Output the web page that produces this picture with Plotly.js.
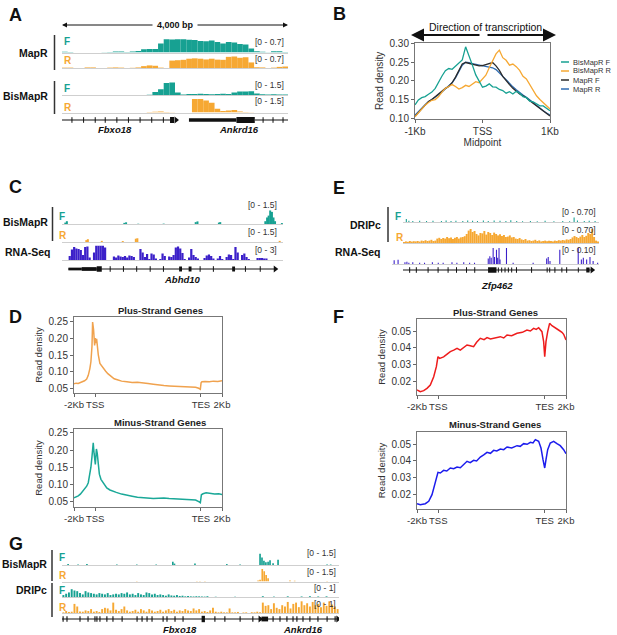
<!DOCTYPE html>
<html>
<head>
<meta charset="utf-8">
<script src="https://cdn.plot.ly/plotly-3.0.1.min.js"></script>
<style>
  body { margin: 0; background: #fff; }
  #fig { width: 617px; height: 635px; }
</style>
</head>
<body>
<div id="fig"></div>
<script>
// ---------------- data ----------------
const teal = '#17a192';
const orange = '#f6a833';
const indigo = '#3b20c9';

// Panel A: 4 kb window, 100 bp bins
const mapRF = [0.04,0.03,0,0,0,0,0,0.01,0.03,0.05, 0.05,0.02,0.05,0.08,0.16,0.18,0.17,0.45,0.66,0.65,
  0.66,0.66,0.64,0.62,0.58,0.56,0.6,0.52,0.45,0.52, 0.5,0.42,0.4,0.2,0.06,0.04,0.01,0.06,0.06,0.03];
const mapRR = [0.02,0.02,0,0,0.03,0.03,0,0,0.02,0.03, 0.02,0,0.01,0.03,0.1,0.14,0.12,0.02,0,0.4,
  0.42,0.44,0.5,0.52,0.5,0.46,0.5,0.45,0.44,0.6, 0.62,0.55,0.58,0.3,0.04,0.03,0,0.02,0.06,0.08];
const bisF_A = [0,0,0,0,0,0,0,0,0,0, 0,0,0,0,0,0.02,0.3,0.6,1.25,1.3,
  0.25,0.05,0.1,0.1,0.12,0.1,0.08,0.1,0.12,0.1, 0.25,0.35,0.35,0.4,0.15,0.08,0.05,0.08,0.04,0.06];
const bisR_A = [0,0,0,0,0,0,0,0,0,0, 0,0,0,0,0,0.05,0.08,0.1,0.05,0.02,
  0,0,0,1.4,1.4,1.25,1.0,0.4,0.15,0.2, 0.25,0.1,0.05,0.03,0,0,0,0,0,0];
const geneA_intronStart = [0, 3412];
const geneA_intronEnd = [1912, 4000];
const geneA_exonStart = [1912, 2247, 3088];
const geneA_exonEnd = [1982, 3088, 3412];
const geneA_exonHeight = [1.0, 0.55, 1.0];
const geneA_strandTicks = [176, 382, 588, 765, 971, 1176, 1382, 1588, 1794, 3559, 3735, 3912];
const geneA_arrow = [2018];

// Panel B: metaplot around midpoint
const midpointBp = [-1000,-950,-900,-850,-800,-750,-700,-650,-600,-550,-500,-450,-400,-350,-300,-250,-200,-150,-100,-50,
  0,50,100,150,200,250,300,350,400,450,500,550,600,650,700,750,800,850,900,950,1000];
const bisMapRF_B = [0.136,0.149,0.155,0.158,0.164,0.170,0.180,0.198,0.213,0.227,0.233,0.231,0.240,0.247,0.256,0.291,0.269,0.242,0.216,0.198,
  0.183,0.186,0.192,0.184,0.183,0.177,0.174,0.167,0.171,0.165,0.172,0.167,0.158,0.155,0.146,0.144,0.138,0.133,0.133,0.127,0.120];
const bisMapRR_B = [0.104,0.115,0.125,0.135,0.142,0.148,0.150,0.158,0.170,0.180,0.185,0.190,0.185,0.178,0.182,0.188,0.185,0.192,0.198,0.195,
  0.205,0.215,0.235,0.255,0.272,0.282,0.262,0.255,0.242,0.245,0.238,0.228,0.212,0.205,0.190,0.175,0.160,0.150,0.142,0.133,0.125];
const mapRF_B = [0.105,0.115,0.125,0.135,0.145,0.150,0.158,0.165,0.172,0.180,0.185,0.195,0.210,0.228,0.245,0.249,0.247,0.243,0.243,0.240,
  0.241,0.243,0.246,0.249,0.240,0.228,0.212,0.200,0.190,0.180,0.172,0.165,0.160,0.155,0.147,0.140,0.132,0.125,0.118,0.112,0.106];
const mapRR_B = [0.108,0.118,0.127,0.136,0.144,0.150,0.155,0.163,0.170,0.178,0.185,0.195,0.208,0.225,0.242,0.250,0.249,0.246,0.244,0.243,
  0.241,0.238,0.236,0.235,0.230,0.222,0.212,0.203,0.193,0.184,0.176,0.168,0.162,0.156,0.150,0.142,0.135,0.127,0.120,0.114,0.109];
const seriesNamesB = ['BisMapR F', 'BisMapR R', 'MapR F', 'MapR R'];
const seriesColorsB = [teal, orange, '#2b2b2b', '#2f6db3'];

// Panel C: Abhd10 locus (0-100 scaled)
const cF_pos = [1.5,2.2,28.2,29,34.5,46,60.5,61.3,71,71.6,92,92.8,93.5,94.2,95,95.7,96.4,99.5];
const cF_val = [0.15,0.3,0.12,0.18,0.03,0.04,0.2,0.28,0.15,0.2,0.3,0.7,0.9,1.45,1.3,0.7,0.3,0.1];
const cR_pos = [11,11.7,18,27.5,33.4,34.1,98.5];
const cR_val = [0.2,0.3,0.12,0.1,0.35,0.4,0.12];
const cRna = [0,0,0,0.8,2.1,2.6,2.3,2.2,2.0,1.0, 2.6,2.7,0.5,0,1.5,2.85,2.85,2.85,2.85,2.5,
  0,0,0,0.7,0.5,0.9,0.7,0.6,0.8,0.5, 0.9,0.8,0.6,0,0,2.2,1.5,0.6,1.2,0.2,
  1.3,1.1,0.3,0,0.2,1.3,0.8,0,0.7,0.6, 1.0,2.5,2.7,2.3,1.4,0.2,0,0.5,2.2,1.0,
  0.6,0.3,0,0,0.4,0.9,1.1,0.8,0.3,0, 0.3,0.8,0.2,0,0.6,1.1,1.0,0.2,2.6,1.5,
  0,1.0,1.3,0.6,0.2,0,0,0,0.4,0.4, 0.4,0.3,0.3,0,0,0,0,0,0,0];
const geneC_intronStart = [2.9];
const geneC_intronEnd = [96.5];
const geneC_exonStart = [2.9, 8.9, 15.7, 53, 57.3, 77];
const geneC_exonEnd = [8.9, 15.7, 18, 54.3, 58.6, 78.3];
const geneC_exonHeight = [0.55, 0.75, 1.1, 1.0, 1.0, 1.0];
const geneC_strandTicks = [21.8, 27.8, 33.8, 39.9, 45.9, 62.5, 68.5, 83, 89.7];
const geneC_arrow = [96.5];

// Panel E: Zfp462 locus (0-100 scaled)
const eF_pos = [1.7,3,5,8.5,12,15.3,19.6,22,24.5,27,30.5,33,35.5,38,41,43.5,46.5,49.5,52.5,55,58,61,65,68.5,72.5,77,81.5,85,87.3,89,92.5,95,98];
const eF_val = [0.15,0.06,0.05,0.06,0.05,0.06,0.05,0.07,0.05,0.06,0.05,0.08,0.06,0.05,0.07,0.05,0.08,0.06,0.05,0.09,0.05,0.04,0.05,0.04,0.06,0.04,0.05,0.04,0.22,0.08,0.05,0.06,0.05];
const eR = [0.05,0.08,0.06,0.1,0.07,0.09,0.08,0.1,0.07,0.12, 0.1,0.14,0.1,0.12,0.16,0.1,0.12,0.22,0.26,0.2,
  0.25,0.22,0.3,0.24,0.28,0.2,0.26,0.3,0.22,0.28, 0.3,0.34,0.45,0.62,0.75,0.55,0.6,0.45,0.38,0.5,
  0.48,0.6,0.42,0.55,0.5,0.4,0.52,0.45,0.38,0.44, 0.35,0.4,0.3,0.32,0.38,0.28,0.3,0.22,0.2,0.25,
  0.18,0.15,0.2,0.12,0.14,0.1,0.12,0.16,0.1,0.13, 0.08,0.1,0.12,0.09,0.11,0.1,0.08,0.12,0.1,0.14,
  0.12,0.15,0.13,0.18,0.16,0.2,0.28,0.35,0.3,0.25, 0.32,0.4,0.3,0.36,0.5,0.45,0.7,0.3,0.12,0.08];
const eRna_pos = [-4.5,-2.5,1,2,3,5,8.5,11,15,18,20.5,25,27.5,31,34,36.5,43.5,44.3,45,46,46.7,47.7,48.3,49,49.5,52.8,56.2,66.4,73.3,74.1,75,80,89.4,91,92,93.7,95.4,97,99.3];
const eRna_val = [0.025,0.028,0.012,0.015,0.01,0.012,0.01,0.01,0.012,0.01,0.01,0.012,0.01,0.012,0.01,0.01,0.035,0.05,0.04,0.1,0.045,0.09,0.04,0.1,0.03,0.1,0.01,0.01,0.035,0.045,0.02,0.09,0.1,0.03,0.04,0.03,0.045,0.02,0.01];
const geneE_intronStart = [0];
const geneE_intronEnd = [96.5];
const geneE_exonStart = [43.4, 48.4, 50.1, 51.8, 53.5, 55.2, 73.3, 74.6, 80.8, 89.2, 93.5];
const geneE_exonEnd = [47.7, 48.9, 50.6, 52.3, 54, 55.7, 73.8, 75.1, 81.3, 89.7, 95.2];
const geneE_exonHeight = [1.1, 1.0, 1.0, 1.0, 1.0, 1.0, 1.0, 1.0, 1.0, 1.0, 1.0];
const geneE_strandTicks = [3.4, 6.8, 12.8, 17.9, 23, 27.3, 32.4, 36.6, 57.9, 65.6, 77.5, 83.5];
const geneE_arrow = [96.5];

// Panels D and F: scaled gene bodies (-2Kb .. TSS .. TES .. +2Kb)
const dPlusX = [-2,-1.8,-1.6,-1.4,-1.2,-1.0,-0.8,-0.65,-0.5,-0.4,-0.3,-0.24,-0.15,-0.05,0.02,0.08,0.14,0.2,0.3,0.45,0.6,0.8,1.0,1.2,1.5,1.8,2.1,2.5,3.0,3.5,
  4.0,4.5,5.0,5.5,6.0,6.5,7.0,7.5,8.0,8.5,9.0,9.5,9.8,9.95,10.02,10.1,10.4,10.8,11.2,11.6,12];
const dPlusY = [0.065,0.067,0.066,0.068,0.071,0.074,0.079,0.09,0.11,0.13,0.175,0.247,0.225,0.178,0.2,0.185,0.198,0.17,0.15,0.125,0.118,0.108,0.102,0.095,0.088,0.08,0.077,0.073,0.071,0.069,
  0.07,0.067,0.066,0.064,0.061,0.06,0.059,0.058,0.057,0.056,0.056,0.055,0.052,0.049,0.068,0.071,0.072,0.071,0.073,0.072,0.074];
const dMinusX = [-2,-1.8,-1.6,-1.4,-1.2,-1.0,-0.8,-0.65,-0.5,-0.4,-0.3,-0.18,-0.1,0.02,0.12,0.2,0.3,0.4,0.55,0.7,0.9,1.1,1.4,1.7,2.0,2.5,3.0,3.5,
  4.0,4.5,5.0,5.5,6.0,6.5,7.0,7.5,8.0,8.5,9.0,9.5,9.8,9.95,10.05,10.2,10.5,10.9,11.3,11.7,12];
const dMinusY = [0.061,0.063,0.067,0.072,0.079,0.088,0.095,0.105,0.13,0.15,0.18,0.221,0.19,0.158,0.203,0.19,0.16,0.13,0.115,0.108,0.098,0.09,0.084,0.08,0.077,0.072,0.068,0.066,
  0.063,0.061,0.06,0.059,0.06,0.061,0.059,0.058,0.058,0.057,0.056,0.055,0.05,0.047,0.07,0.073,0.076,0.074,0.072,0.073,0.071];
const fPlusX = [-2,-1.69,-1.37,-1.06,-0.75,-0.43,-0.18,-0.03,0.13,0.5,0.8,1.13,1.45,1.76,2.07,2.4,2.7,3.0,3.32,3.6,3.95,4.3,4.58,4.9,5.2,5.5,5.83,6.15,6.46,6.9,
  7.4,7.9,8.33,8.65,8.96,9.2,9.43,9.74,9.9,10.0,10.12,10.28,10.46,10.68,11.0,11.3,11.62,11.78,12];
const fPlusY = [0.0146,0.0136,0.0142,0.0156,0.0176,0.0226,0.0286,0.0346,0.0336,0.0345,0.036,0.0376,0.0385,0.0396,0.0385,0.0402,0.0416,0.0412,0.0406,0.0432,0.0456,0.0448,0.046,0.0452,0.0458,0.0462,0.0466,0.0458,0.0476,0.0472,
  0.0486,0.0492,0.0506,0.05,0.0516,0.051,0.052,0.0496,0.0436,0.0346,0.0436,0.0496,0.0546,0.0532,0.0516,0.0506,0.0492,0.048,0.0446];
const fMinusX = [-2,-1.69,-1.22,-0.9,-0.59,-0.28,-0.03,0.19,0.5,0.8,1.13,1.45,1.76,2.07,2.38,2.7,3.0,3.32,3.6,3.95,4.3,4.58,4.9,5.2,5.5,5.83,6.15,6.46,6.9,7.4,
  7.7,8.02,8.35,8.65,8.9,9.12,9.43,9.65,9.84,10.0,10.12,10.28,10.52,10.84,11.15,11.46,11.78,12];
const fMinusY = [0.0142,0.0136,0.0142,0.0156,0.0196,0.0266,0.033,0.0326,0.0342,0.0338,0.0356,0.0352,0.0362,0.0358,0.0376,0.0396,0.0388,0.0402,0.0398,0.0422,0.0436,0.045,0.0444,0.0462,0.0458,0.047,0.0466,0.0482,0.0476,0.049,
  0.0486,0.0502,0.0498,0.051,0.0506,0.0526,0.0516,0.0476,0.0406,0.0356,0.0406,0.0466,0.0506,0.0516,0.0502,0.049,0.0466,0.0442];
const metaTickVals = [-2, 0, 10, 12];
const metaTickText = ['-2Kb', 'TSS', 'TES', '2Kb'];

// Panel G: Fbxo18 / Ankrd16 wide locus (0-100 scaled)
const gBisF_pos = [2.2,5.8,9,19.8,27,34,40,40.6,48,59.5,64.3,71.5,72.2,72.9,73.6,74.4,75.1,76.2,78,95.7,97];
const gBisF_val = [0.1,0.06,0.1,0.06,0.05,0.05,0.35,0.15,0.15,0.1,0.06,1.2,0.8,0.45,0.3,0.35,0.5,0.2,0.55,0.06,0.05];
const gBisR_pos = [27,48.7,49.8,51.6,70.8,71.5,72.3,73,73.7,74.4,82.3,84,95.7];
const gBisR_val = [0.05,0.06,0.05,0.05,0.1,0.2,1.35,1.1,0.7,0.35,0.1,0.08,0.05];
const gDripF = [0.15,0.25,0.35,0.6,0.5,0.45,0.3,0.2,0.45,0.35, 0.3,0.25,0.2,0.3,0.25,0.2,0.3,0.15,0.2,0.25,
  0.2,0.3,0.25,0.35,0.2,0.25,0.15,0.3,0.2,0.15, 0.35,0.3,0.2,0.25,0.15,0.2,0.15,0.1,0.2,0.12,
  0.1,0.15,0.08,0.1,0.05,0.08,0.05,0.04,0.06,0.05, 0.04,0.03,0.06,0,0,0.02,0,0,0,0,
  0,0,0.02,0,0,0,0,0,0,0, 0,0,0.06,0,0,0,0.03,0,0,0,
  0,0.05,0,0,0,0,0.04,0,0,0.06, 0,0,0.04,0,0,0.05,0,0,0,0];
const gDripR = [0.05,0.15,0.08,0.1,0.7,0.5,0.12,0.1,0.2,0.15, 0.3,0.1,0.15,0.08,0.3,0.4,0.35,0.2,0.8,0.25,
  0.15,0.3,0.5,0.2,0.1,0.15,0.25,0.1,0.3,0.2, 0.1,0.3,0.2,0.1,0.15,0.25,0.1,0.2,0.3,0.15,
  0.25,0.1,0.2,0.15,0.3,0.2,0.15,0.35,0.2,0.3, 0.1,0.15,0.08,0.2,0.4,0.1,0.05,0.1,0.05,0.05,
  0.35,0.05,0.05,0.08,0,0.04,0.05,0,0.06,0.05, 0.1,0.06,0.8,0.55,0.6,0.3,0.75,0.4,0.3,0.6,
  0.5,0.85,0.35,0.7,0.8,0.45,0.9,0.6,0.75,0.5, 0.85,0.6,0.7,0.45,0.8,0.55,0.9,0.65,0.5,0.3];
const geneG_intronStart = [0];
const geneG_intronEnd = [100];
const geneG_exonStart = [0.2,1.6,6.3,9.2,11.7,12.4,13.5,16,18.2,21.5,26.9,28.7,30.5,32.3,36.3,37.7,40.6,43.5,50.4,55,58.6,64.1,68.7,72,76,78.5,81,83.2,84.6,86.8,89.3,92.2,95.5,98.4];
const geneG_exonEnd = [0.6,2.0,6.7,9.6,12.1,12.8,13.9,16.4,18.6,21.9,27.3,29.1,30.9,32.7,36.7,38.1,41,43.9,51.6,55.4,59,64.5,69.1,74.4,76.4,78.9,81.4,83.6,85,87.2,89.7,92.6,95.9,98.8];
const geneG_exonHeight = [1.4,1.4,1.4,1.4,1.4,1.4,1.4,1.4,1.4,1.4,1.4,1.4,1.4,1.4,1.4,1.4,1.4,1.4,1.6,1.4,1.4,1.4,1.4,1.2,1.4,1.4,1.4,1.4,1.4,1.4,1.4,1.4,1.4,1.4];
const geneG_arrow = [99.6, 71.5];

// ---------------- layout helpers ----------------
const W = 617, H = 635;
const px = v => v / W;
const py = v => 1 - v / H;
const FONT = 'Arial, "Liberation Sans", sans-serif';

const layout = {
  width: W, height: H,
  margin: {l: 0, r: 0, t: 0, b: 0},
  paper_bgcolor: 'white',
  plot_bgcolor: 'rgba(0,0,0,0)',
  showlegend: false,
  font: {family: FONT, color: '#222', size: 10},
  annotations: [],
  shapes: []
};
const traces = [];
let axisCount = 0;

function makeAxes(x0, x1, y0, y1, xopt, yopt) {
  axisCount++;
  const s = axisCount === 1 ? '' : String(axisCount);
  layout['xaxis' + s] = Object.assign({domain: [px(x0), px(x1)], anchor: 'y' + s, fixedrange: true}, xopt);
  layout['yaxis' + s] = Object.assign({domain: [py(y1), py(y0)], anchor: 'x' + s, fixedrange: true}, yopt);
  return {xaxis: 'x' + s, yaxis: 'y' + s};
}

function trackAxes(x0, x1, y0, y1, xrange, ymax, lineColor) {
  return makeAxes(x0, x1, y0, y1,
    {range: xrange, showgrid: false, zeroline: false, showticklabels: false, ticks: '',
     showline: true, linecolor: lineColor || '#cfcfcf', linewidth: 1},
    {range: [0, ymax], visible: false, showgrid: false, zeroline: false});
}

function binCenters(n, start, step) {
  return Array.from({length: n}, (_, i) => start + (i + 0.5) * step);
}

function bars(ax, xs, ys, color, width) {
  traces.push(Object.assign({
    type: 'bar', x: xs, y: ys, width: width,
    marker: {color: color, line: {width: 0}}, hoverinfo: 'skip'
  }, ax));
}

function geneModel(ax, intronStart, intronEnd, exonStart, exonEnd, exonHeight, strandTicks, arrows) {
  const lx = [], ly = [];
  intronStart.forEach((s, i) => { lx.push(s, intronEnd[i], null); ly.push(0, 0, null); });
  traces.push(Object.assign({type: 'scatter', mode: 'lines', x: lx, y: ly,
    line: {color: '#111', width: 1}, hoverinfo: 'skip'}, ax));
  traces.push(Object.assign({
    type: 'bar',
    x: exonStart.map((s, i) => (s + exonEnd[i]) / 2),
    width: exonStart.map((s, i) => exonEnd[i] - s),
    y: exonHeight,
    base: exonHeight.map(h => -h / 2),
    marker: {color: '#111', line: {width: 0}}, hoverinfo: 'skip'
  }, ax));
  if (strandTicks && strandTicks.length) {
    traces.push(Object.assign({type: 'scatter', mode: 'markers', x: strandTicks, y: strandTicks.map(() => 0),
      marker: {symbol: 'line-ns-open', size: 4, color: '#111', line: {color: '#111', width: 1}}, hoverinfo: 'skip'}, ax));
  }
  traces.push(Object.assign({type: 'scatter', mode: 'markers', x: arrows, y: arrows.map(() => 0),
    marker: {symbol: 'triangle-right', size: 6, color: '#111'}, hoverinfo: 'skip'}, ax));
}

function geneAxes(x0, x1, y0, y1, xrange) {
  return makeAxes(x0, x1, y0, y1,
    {range: xrange, visible: false, showgrid: false, zeroline: false},
    {range: [-1, 1], visible: false, showgrid: false, zeroline: false});
}

function label(text, x, y, opt) {
  layout.annotations.push(Object.assign({
    text: text, x: px(x), y: py(y), xref: 'paper', yref: 'paper',
    showarrow: false, xanchor: 'left', yanchor: 'middle',
    font: {family: FONT, size: 10, color: '#222'}
  }, opt));
}
function panelLetter(t, x, y) { label(t, x, y, {font: {family: FONT, size: 18, color: '#111', weight: 'bold'}}); }
function trackName(t, x, y) { label('<b>' + t + '</b>', x, y, {xanchor: 'right', font: {family: FONT, size: 10.5, color: '#111'}}); }
function strandLetter(t, x, y, c) { label('<b>' + t + '</b>', x, y, {font: {family: FONT, size: 10, color: c}}); }
function rangeText(t, x, y) { label(t, x, y, {xanchor: 'right', font: {family: FONT, size: 8.5, color: '#333'}}); }
function geneName(t, x, y) { label('<b><i>' + t + '</i></b>', x, y, {xanchor: 'center', font: {family: FONT, size: 9.5, color: '#111'}}); }
function vbar(x, y0, y1) {
  layout.shapes.push({type: 'line', xref: 'paper', yref: 'paper', x0: px(x), x1: px(x), y0: py(y0), y1: py(y1),
    line: {color: '#333', width: 1.5}});
}
function arrow(xHead, y, tailOffset, width, size) {
  layout.annotations.push({x: px(xHead), y: py(y), xref: 'paper', yref: 'paper', ax: tailOffset, ay: 0,
    showarrow: true, arrowhead: 2, arrowsize: size, arrowwidth: width, arrowcolor: '#111', text: ''});
}

function metaAxes(x0, x1, y0, y1, yrange, ytickvals, ytitle) {
  return makeAxes(x0, x1, y0, y1,
    {range: [-2, 12], tickvals: metaTickVals, ticktext: metaTickText, tickangle: 0, ticks: 'outside', ticklen: 3,
     tickcolor: '#666', showgrid: false, zeroline: false, showline: true, mirror: true, linecolor: '#777',
     linewidth: 1, tickfont: {family: FONT, size: 9.5, color: '#333'}},
    {range: yrange, tickvals: ytickvals, tickformat: '.2f', ticks: 'outside', ticklen: 3, tickcolor: '#666',
     showgrid: false, zeroline: false, showline: true, mirror: true, linecolor: '#777', linewidth: 1,
     tickfont: {family: FONT, size: 10, color: '#333'},
     title: {text: ytitle, font: {family: FONT, size: 9.5, color: '#333'}, standoff: 4}});
}

// ---------------- Panel A ----------------
panelLetter('A', 7, 15);
const aBins = binCenters(40, 0, 100);
bars(trackAxes(62, 288, 38.5, 52.5, [0, 4000], 0.7), aBins, mapRF, teal, 100);
bars(trackAxes(62, 288, 55, 68, [0, 4000], 0.7), aBins, mapRR, orange, 100);
bars(trackAxes(62, 288, 80.5, 95, [0, 4000], 1.5), aBins, bisF_A, teal, 100);
bars(trackAxes(62, 288, 98, 112.5, [0, 4000], 1.5), aBins, bisR_A, orange, 100);
geneModel(geneAxes(62, 288, 114, 126, [0, 4000]), geneA_intronStart, geneA_intronEnd,
  geneA_exonStart, geneA_exonEnd, geneA_exonHeight, geneA_strandTicks, geneA_arrow);
arrow(62, 25, 92, 1, 1);
arrow(288, 25, -92, 1, 1);
label('<b>4,000 bp</b>', 175, 25, {xanchor: 'center', font: {family: FONT, size: 9, color: '#111'}});
trackName('MapR', 50, 53);
vbar(54.5, 35, 70);
strandLetter('F', 62, 42, teal);
strandLetter('R', 62, 61, orange);
rangeText('[0 - 0.7]', 286, 42);
rangeText('[0 - 0.7]', 286, 59);
trackName('BisMapR', 50, 96);
vbar(54.5, 81, 114);
strandLetter('F', 62, 88, teal);
strandLetter('R', 62, 107, orange);
rangeText('[0 - 1.5]', 286, 85);
rangeText('[0 - 1.5]', 286, 101);
geneName('Fbxo18', 115, 130);
geneName('Ankrd16', 239, 130);

// ---------------- Panel B ----------------
panelLetter('B', 331, 14);
const axB = makeAxes(415, 550, 42.7, 119,
  {range: [-1000, 1000], tickvals: [-1000, 0, 1000], ticktext: ['-1Kb', 'TSS', '1Kb'], tickangle: 0, ticks: 'outside', ticklen: 3,
   tickcolor: '#666', showgrid: false, zeroline: false, showline: true, mirror: true, linecolor: '#777', linewidth: 1,
   tickfont: {family: FONT, size: 10, color: '#333'},
   title: {text: 'Midpoint', font: {family: FONT, size: 10, color: '#333'}, standoff: 0}},
  {range: [0.098, 0.302], tickvals: [0.10, 0.15, 0.20, 0.25, 0.30], tickformat: '.2f', ticks: 'outside', ticklen: 3,
   tickcolor: '#666', showgrid: false, zeroline: false, showline: true, mirror: true, linecolor: '#777', linewidth: 1,
   tickfont: {family: FONT, size: 10, color: '#333'},
   title: {text: 'Read density', font: {family: FONT, size: 10, color: '#333'}, standoff: 4}});
const seriesB = [bisMapRF_B, bisMapRR_B, mapRF_B, mapRR_B];
[3, 2, 1, 0].forEach(i => {
  traces.push(Object.assign({type: 'scatter', mode: 'lines', x: midpointBp, y: seriesB[i], name: seriesNamesB[i],
    line: {color: seriesColorsB[i], width: 1.3}, hoverinfo: 'skip'}, axB));
});
seriesNamesB.forEach((name, i) => {
  const y = 62 + i * 9;
  layout.shapes.push({type: 'line', xref: 'paper', yref: 'paper', x0: px(561), x1: px(569), y0: py(y), y1: py(y),
    line: {color: seriesColorsB[i], width: 1.5}});
  label(name, 571, y, {font: {family: FONT, size: 7.5, color: '#333'}});
});
label('Direction of transcription', 485, 27, {xanchor: 'center', font: {family: FONT, size: 10.5, color: '#111'}});
arrow(411, 35, 70, 2, 1.3);
arrow(556, 35, -70, 2, 1.3);

// ---------------- Panel C ----------------
panelLetter('C', 7, 187);
bars(trackAxes(62, 283, 210, 224, [0, 100], 1.5), cF_pos, cF_val, teal, 0.9);
bars(trackAxes(62, 283, 228, 242, [0, 100], 1.5), cR_pos, cR_val, orange, 0.9);
bars(trackAxes(62, 283, 245, 260, [0, 100], 3), binCenters(100, 0, 1), cRna, indigo, 1);
geneModel(geneAxes(62, 283, 264, 274, [0, 100]), geneC_intronStart, geneC_intronEnd,
  geneC_exonStart, geneC_exonEnd, geneC_exonHeight, geneC_strandTicks, geneC_arrow);
trackName('BisMapR', 50, 222);
vbar(52.5, 207, 241);
strandLetter('F', 57, 216, teal);
strandLetter('R', 57, 235, orange);
trackName('RNA-Seq', 53, 252);
rangeText('[0 - 1.5]', 279, 205);
rangeText('[0 - 1.5]', 279, 232);
rangeText('[0 - 3]', 279, 250);
geneName('Abhd10', 183, 279);

// ---------------- Panel E ----------------
panelLetter('E', 331, 188);
bars(trackAxes(403, 599, 208, 222, [0, 100], 0.7), eF_pos, eF_val, teal, 0.55);
bars(trackAxes(403, 599, 229, 243, [0, 100], 0.7), binCenters(100, 0, 1), eR, orange, 1);
bars(trackAxes(392, 599, 248, 264.3, [-5.6, 100], 0.1), eRna_pos, eRna_val, indigo, 0.55);
geneModel(geneAxes(403, 599, 265, 275, [0, 100]), geneE_intronStart, geneE_intronEnd,
  geneE_exonStart, geneE_exonEnd, geneE_exonHeight, geneE_strandTicks, geneE_arrow);
trackName('DRIPc', 383, 225);
vbar(388, 207, 242);
strandLetter('F', 393, 216, teal);
strandLetter('R', 394, 237, orange);
trackName('RNA-Seq', 383, 252);
rangeText('[0 - 0.70]', 598, 212);
rangeText('[0 - 0.70]', 598, 230);
rangeText('[0 - 0.10]', 598, 250);
geneName('Zfp462', 497, 285);

// ---------------- Panel D ----------------
panelLetter('D', 7, 317);
const axDp = metaAxes(74, 222, 317, 393, [0.038, 0.262], [0.05, 0.10, 0.15, 0.20, 0.25], 'Read density');
traces.push(Object.assign({type: 'scatter', mode: 'lines', x: dPlusX, y: dPlusY,
  line: {color: '#f0a24e', width: 1.5}, hoverinfo: 'skip'}, axDp));
label('<b>Plus-Strand Genes</b>', 160, 310, {xanchor: 'center', font: {family: FONT, size: 9.5, color: '#222'}});
const axDm = metaAxes(74, 222, 429, 507, [0.0346, 0.261], [0.05, 0.10, 0.15, 0.20, 0.25], 'Read density');
traces.push(Object.assign({type: 'scatter', mode: 'lines', x: dMinusX, y: dMinusY,
  line: {color: '#1aa898', width: 1.5}, hoverinfo: 'skip'}, axDm));
label('<b>Minus-Strand Genes</b>', 160, 423, {xanchor: 'center', font: {family: FONT, size: 9.5, color: '#222'}});

// ---------------- Panel F ----------------
panelLetter('F', 331, 317);
const axFp = metaAxes(417, 566, 319, 395, [0.0116, 0.0572], [0.02, 0.03, 0.04, 0.05], 'Read density');
traces.push(Object.assign({type: 'scatter', mode: 'lines', x: fPlusX, y: fPlusY,
  line: {color: '#ee1c1c', width: 1.5}, hoverinfo: 'skip'}, axFp));
label('<b>Plus-Strand Genes</b>', 495, 312, {xanchor: 'center', font: {family: FONT, size: 9.5, color: '#222'}});
const axFm = metaAxes(417, 566, 432, 509, [0.011, 0.0572], [0.02, 0.03, 0.04, 0.05], 'Read density');
traces.push(Object.assign({type: 'scatter', mode: 'lines', x: fMinusX, y: fMinusY,
  line: {color: '#1c1ced', width: 1.5}, hoverinfo: 'skip'}, axFm));
label('<b>Minus-Strand Genes</b>', 495, 424, {xanchor: 'center', font: {family: FONT, size: 9.5, color: '#222'}});

// ---------------- Panel G ----------------
panelLetter('G', 7, 544);
bars(trackAxes(62, 339, 551, 565, [0, 100], 1.5), gBisF_pos, gBisF_val, teal, 0.6);
bars(trackAxes(62, 339, 567.5, 581.5, [0, 100], 1.5), gBisR_pos, gBisR_val, orange, 0.6);
bars(trackAxes(62, 339, 584, 597, [0, 100], 1), binCenters(100, 0, 1), gDripF, teal, 0.7);
bars(trackAxes(62, 339, 600, 613, [0, 100], 1), binCenters(100, 0, 1), gDripR, orange, 0.7);
geneModel(geneAxes(62, 339, 615, 623, [0, 100]), geneG_intronStart, geneG_intronEnd,
  geneG_exonStart, geneG_exonEnd, geneG_exonHeight, [], geneG_arrow);
trackName('BisMapR', 49, 564);
vbar(52, 550, 581);
trackName('DRIPc', 49, 590);
vbar(52, 583, 617);
strandLetter('F', 57, 557, teal);
strandLetter('R', 57, 575, orange);
strandLetter('F', 57, 590, teal);
strandLetter('R', 57, 607, orange);
rangeText('[0 - 1.5]', 338, 553);
rangeText('[0 - 1.5]', 338, 572);
rangeText('[0 - 1]', 338, 588);
rangeText('[0 - 1]', 338, 604);
geneName('Fbxo18', 180, 629);
geneName('Ankrd16', 303, 629);

Plotly.newPlot('fig', traces, layout, {staticPlot: true, displayModeBar: false});
</script>
</body>
</html>
